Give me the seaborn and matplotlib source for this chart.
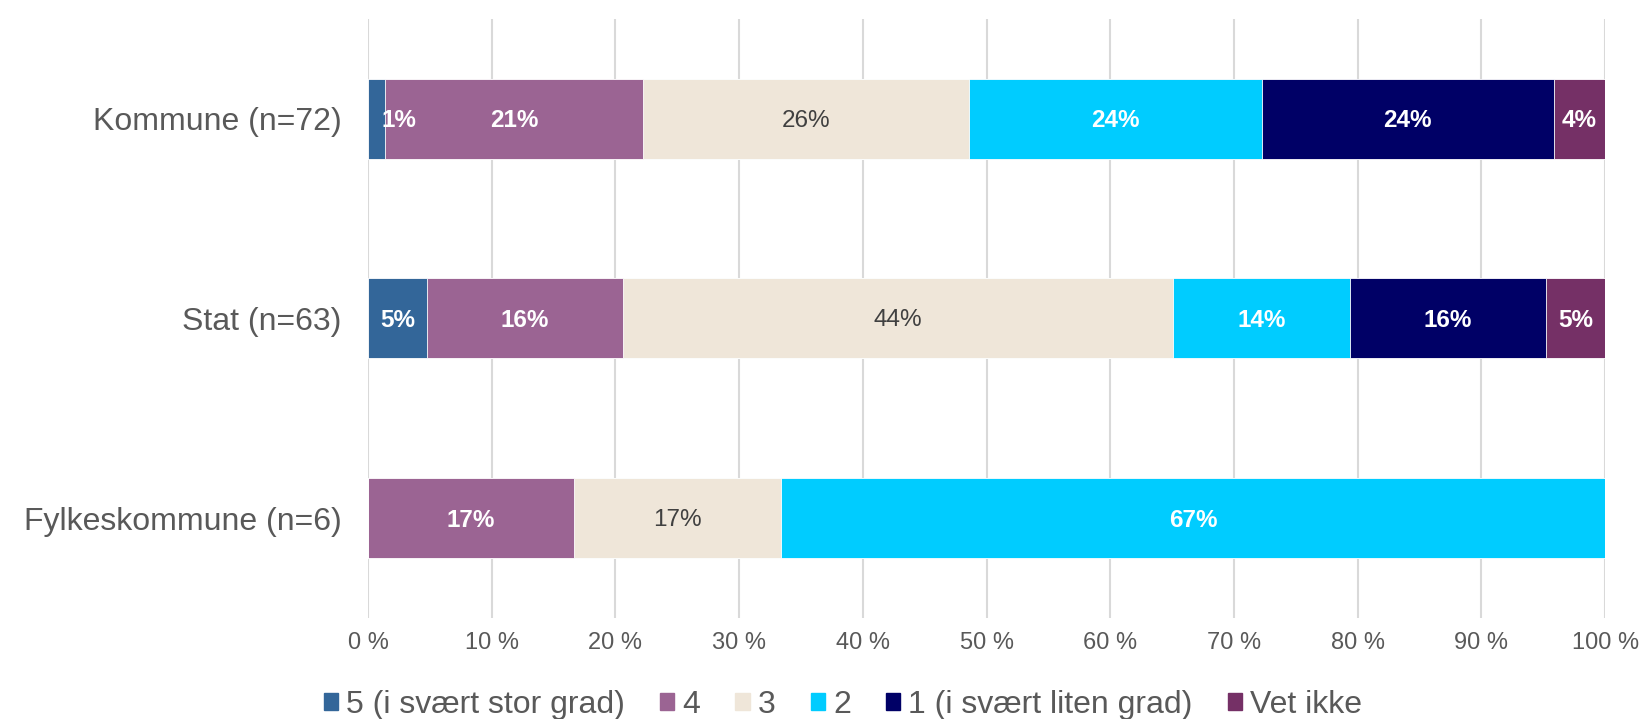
import seaborn as sns
import matplotlib.pyplot as plt
import numpy as np
import pandas as pd

# answers per group (share of respondents, %)
groups = ['Kommune (n=72)', 'Stat (n=63)', 'Fylkeskommune (n=6)']
series = ['5 (i svært stor grad)', '4', '3', '2', '1 (i svært liten grad)', 'Vet ikke']
val_5 = [1.39, 4.76, 0.0]
val_4 = [20.83, 15.87, 16.67]
val_3 = [26.39, 44.44, 16.67]
val_2 = [23.61, 14.29, 66.67]
val_1 = [23.61, 15.87, 0.0]
val_vet = [4.17, 4.76, 0.0]
colors = ['#336699', '#9B6493', '#EFE6D9', '#00CCFF', '#000066', '#753066']
label_colors = ['white', 'white', '#404040', 'white', 'white', 'white']


def seaborn_settings():
    sns.set_theme(style='white')
    plt.rcParams['font.family'] = ['Liberation Sans', 'DejaVu Sans']


def stacked_bars(df):
    fig, ax = plt.subplots(figsize=(16.43, 7.19), dpi=100)
    fig.subplots_adjust(left=0.224, right=0.977, top=0.974, bottom=0.1405)

    cum = df[series].cumsum(axis=1)
    # draw cumulative totals from the back so each segment shows on top
    for i in reversed(range(len(series))):
        sns.barplot(x=cum[series[i]], y=df['group'], color=colors[i],
                    orient='h', width=0.4, ax=ax, saturation=1,
                    edgecolor='white', linewidth=0.6, zorder=3)

    for r, g in enumerate(df['group']):
        start = 0
        for i, s in enumerate(series):
            v = df.loc[r, s]
            if v > 0:
                x = start + v / 2
                if v < 3:
                    x = start + v + 1.1
                bold = label_colors[i] == 'white'
                ax.text(x, r + 0.01, f'{round(v)}%', ha='center', va='center',
                        color=label_colors[i], fontsize=17.5,
                        fontweight='bold' if bold else 'normal', zorder=5)
            start += v

    ax.set_xlim(0, 100)
    ax.set_ylim(2.5, -0.5)
    ax.set_xticks(np.arange(0, 101, 10))
    ax.set_xticklabels([f'{t} %' for t in range(0, 101, 10)])
    ax.tick_params(axis='x', labelsize=17, labelcolor='#595959', pad=10, length=0)
    ax.tick_params(axis='y', labelsize=23, labelcolor='#595959', pad=19, length=0)
    ax.set_xlabel('')
    ax.set_ylabel('')
    ax.grid(axis='x', color='#D9D9D9', linewidth=1.5, zorder=0)
    ax.set_axisbelow(True)
    for sp in ax.spines.values():
        sp.set_visible(False)

    handles = [plt.Rectangle((0, 0), 1, 1, color=c) for c in colors]
    fig.legend(handles, series, loc='center', bbox_to_anchor=(0.513, 0.02),
               ncol=6, frameon=False, fontsize=23, labelcolor='#595959',
               handlelength=0.45, handleheight=0.45, handletextpad=0.25,
               columnspacing=1.1, borderaxespad=0)
    fig.savefig('out.png', dpi=100)


seaborn_settings()
data = pd.DataFrame({'group': groups, series[0]: val_5, series[1]: val_4,
                     series[2]: val_3, series[3]: val_2, series[4]: val_1,
                     series[5]: val_vet})
stacked_bars(data)
